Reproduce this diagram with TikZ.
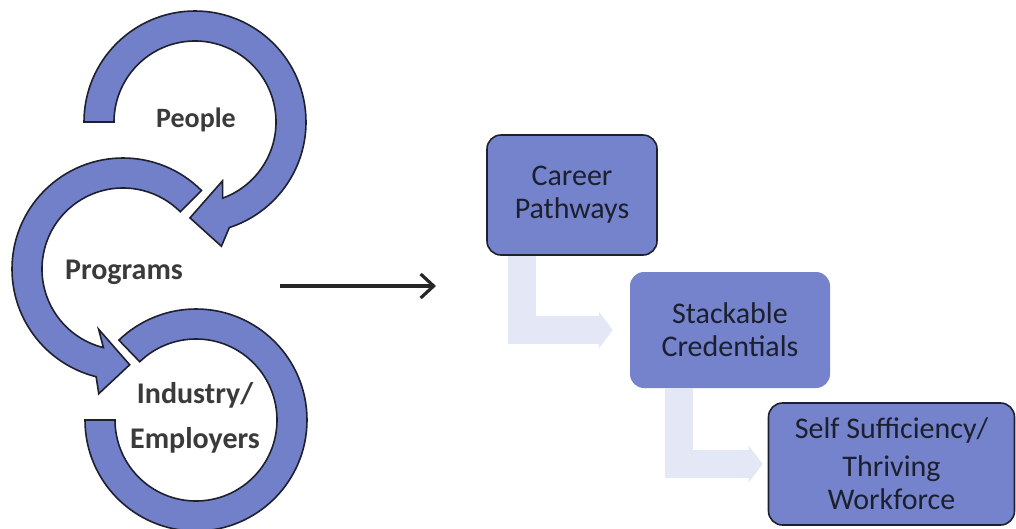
\documentclass[tikz,border=0pt]{standalone}
\usepackage{fontspec}
\setmainfont{Carlito}
\usetikzlibrary{calc,arrows.meta}
\definecolor{ringblue}{RGB}{113,128,200}
\definecolor{boxblue}{RGB}{116,131,203}
\definecolor{pale}{RGB}{228,232,246}
\definecolor{labelgray}{RGB}{58,58,58}
\definecolor{boxtext}{RGB}{28,32,46}
\definecolor{outline}{RGB}{30,32,45}
\begin{document}
\begin{tikzpicture}[x=1pt,y=1pt,
  ring/.style={fill=ringblue, draw=outline, line width=1.6pt, line join=miter},
  ringlabel/.style={text=labelgray, font=\fontsize{30}{45}\selectfont\bfseries, align=center, inner sep=0pt},
  stepbox/.style={fill=boxblue, rounded corners=14pt, text=boxtext, font=\fontsize{30}{33}\selectfont, align=center, inner sep=0pt},
  framed/.style={draw=outline, line width=1.6pt},
  elbow/.style={draw=pale, line width=28pt, -{Triangle[length=14pt,width=36pt]}},
  conn/.style={draw=black!85, line width=3.2pt, -{Straight Barb[length=13pt,width=24pt]}}
]
\fill[white] (0,0) rectangle (1016,-528);
\useasboundingbox (0,0) rectangle (1016,-528);

\coordinate (C1) at (195,-122);
\coordinate (C2) at (123,-269);
\coordinate (C3) at (196,-420);

% ring 1 (People)
\filldraw[ring] ($(C1)+(180:111pt)$) arc[start angle=180,end angle=-72,radius=111pt]
  -- ($(C1)+(-78:127pt)$) -- ($(C1)+(-93:96pt)$) -- ($(C1)+(-65:65pt)$)
  -- ($(C1)+(-70:81pt)$) arc[start angle=-70,end angle=180,radius=81pt] -- cycle;

% ring 2 (Programs)
\filldraw[ring] ($(C2)+(45:111pt)$) arc[start angle=45,end angle=256,radius=111pt]
  -- ($(C2)+(259:127pt)$) -- ($(C2)+(274:96pt)$) -- ($(C2)+(248:65pt)$)
  -- ($(C2)+(256:81pt)$) arc[start angle=256,end angle=45,radius=81pt] -- cycle;

% ring 3 (Industry/Employers)
\filldraw[ring] ($(C3)+(180:111pt)$) arc[start angle=180,end angle=494,radius=111pt]
  -- ($(C3)+(134:81pt)$) arc[start angle=494,end angle=180,radius=81pt] -- cycle;

\node[ringlabel, font=\fontsize{28}{34}\selectfont\bfseries] (people) at (196,-120) {People};
\node[ringlabel] (programs) at (124,-272) {Programs};
\node[ringlabel] (industry) at (195,-418) {Industry/\\Employers};

% middle arrow
\coordinate (a1) at (280,-286);
\coordinate (a2) at (436,-286);
\draw[conn] (a1) -- (a2);

% boxes
\node[stepbox, framed, minimum width=170pt, minimum height=120pt] (cp) at (572,-195) {Career\\Pathways};
\node[stepbox, minimum width=200pt, minimum height=116pt] (sc) at (730,-330) {Stackable\\Credentials};
\node[stepbox, framed, minimum width=246pt, minimum height=122pt] (ss) at (891.5,-464) {Self Sufficiency/\\[5pt]Thriving\\Workforce};

% elbow connectors
\draw[elbow] ([xshift=36pt]cp.south west) |- ([xshift=-17pt]sc.west);
\draw[elbow] ([xshift=49pt]sc.south west) |- ([xshift=-5pt]ss.west);
\end{tikzpicture}
\end{document}
